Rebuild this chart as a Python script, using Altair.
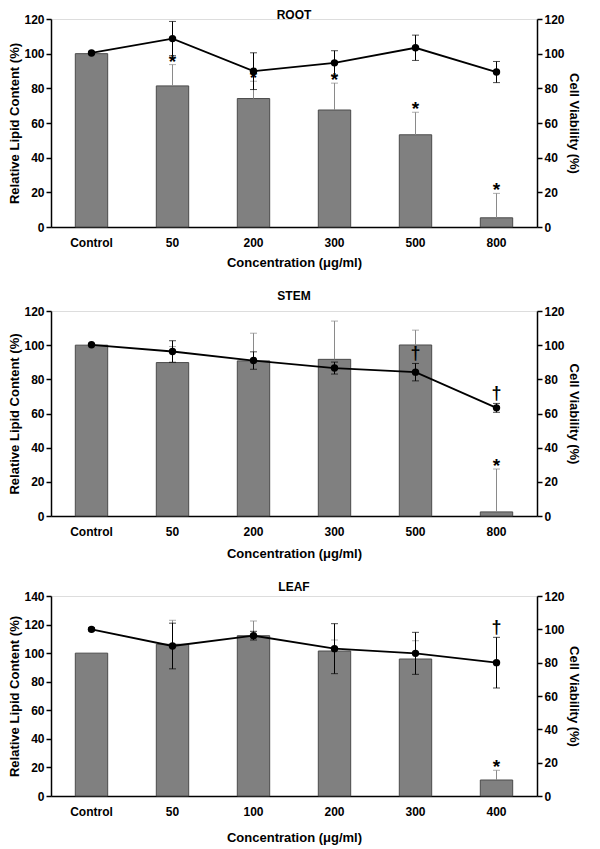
import altair as alt
import pandas as pd

FONT = "Liberation Sans"

# ---------------- data ----------------
root_cats = ["Control", "50", "200", "300", "500", "800"]
root_lipid = [100.0, 81.4, 74.1, 67.5, 53.2, 5.3]
root_lipid_sd = [0.0, 12.3, 10.0, 15.5, 13.0, 14.1]
root_viab = [100.4, 108.7, 89.9, 94.7, 103.4, 89.4]
root_viab_sd = [0.0, 9.9, 10.6, 7.0, 7.3, 6.1]
root_star = [False, True, True, True, True, True]
root_dagger = [False, False, False, False, False, False]

stem_cats = ["Control", "50", "200", "300", "500", "800"]
stem_lipid = [100.0, 89.8, 90.8, 91.7, 100.1, 2.4]
stem_lipid_sd = [0.0, 9.4, 16.2, 22.4, 8.7, 25.1]
stem_viab = [100.2, 96.3, 91.0, 86.6, 84.2, 63.3]
stem_viab_sd = [0.0, 6.3, 5.1, 3.5, 5.1, 2.6]
stem_star = [False, False, False, False, False, True]
stem_dagger = [False, False, False, False, True, True]

leaf_cats = ["Control", "50", "100", "200", "300", "400"]
leaf_lipid = [100.0, 106.2, 112.2, 101.5, 95.9, 11.2]
leaf_lipid_sd = [0.0, 16.8, 10.3, 7.7, 12.8, 6.8]
leaf_viab = [100.0, 90.0, 96.2, 88.4, 85.6, 80.0]
leaf_viab_sd = [1.0, 13.7, 2.6, 15.0, 12.6, 15.2]
leaf_star = [False, False, False, False, False, True]
leaf_dagger = [False, False, False, False, False, True]

AX = dict(labelFont=FONT, labelFontSize=12, labelFontWeight="bold",
          labelColor="black", titleFont=FONT, titleFontSize=13,
          titleFontWeight="bold", titleColor="black", grid=False,
          domainColor="black", domainWidth=1.5, tickColor="black",
          tickWidth=1.5)


def panel(title, cats, lipid, lipid_sd, viab, viab_sd, star, dagger,
          left_max, height, title_offset, x_title_pad):
    df = pd.DataFrame({
        "cat": cats,
        "lipid": lipid,
        "lipid_hi": [a + b for a, b in zip(lipid, lipid_sd)],
        "lipid_sd": lipid_sd,
        "viab": viab,
        "viab_lo": [a - b for a, b in zip(viab, viab_sd)],
        "viab_hi": [a + b for a, b in zip(viab, viab_sd)],
        "viab_sd": viab_sd,
        "star": star,
        "dagger": dagger,
    })

    x = alt.X("cat:N", sort=cats,
              scale=alt.Scale(paddingInner=0.6, paddingOuter=0.3),
              axis=alt.Axis(title="Concentration (\u03bcg/ml)", labelAngle=0,
                            ticks=False, labelPadding=10,
                            titlePadding=x_title_pad, **AX))

    left_axis = alt.Axis(title="Relative Lipid Content (%)",
                         values=list(range(0, left_max + 1, 20)),
                         orient="left", titlePadding=2, labelPadding=2,
                         tickSize=5, **AX)
    right_axis = alt.Axis(title="Cell Viability (%)",
                          values=list(range(0, 121, 20)),
                          orient="right", titlePadding=2, labelPadding=2,
                          tickSize=5, **AX)
    lscale = alt.Scale(domain=[0, left_max], nice=False, zero=True)
    rscale = alt.Scale(domain=[0, 120], nice=False, zero=True)

    def ly(field):
        return alt.Y(f"{field}:Q", scale=lscale, axis=left_axis,
                     title="Relative Lipid Content (%)")

    def ry(field):
        return alt.Y(f"{field}:Q", scale=rscale, axis=right_axis,
                     title="Cell Viability (%)")

    base = alt.Chart(df)
    bars = base.mark_bar(color="#808080", stroke="#4a4a4a",
                         strokeWidth=1).encode(x=x, y=ly("lipid"))
    berr = base.transform_filter("datum.lipid_sd > 0").mark_rule(
        color="#8a8a8a", strokeWidth=1).encode(
        x=x, y=ly("lipid"), y2="lipid_hi:Q")
    bcap = base.transform_filter("datum.lipid_sd > 0").mark_tick(
        color="#8a8a8a", size=7, thickness=1).encode(x=x, y=ly("lipid_hi"))
    stars = base.transform_filter("datum.star").mark_text(
        text="*", font=FONT, fontSize=19, fontWeight="bold", color="black",
        baseline="middle", dy=-3).encode(x=x, y=ly("lipid_hi"))
    left = alt.layer(bars, berr, bcap, stars)

    line = base.mark_line(color="black", strokeWidth=1.8).encode(
        x=x, y=ry("viab"))
    perr = base.transform_filter("datum.viab_sd > 0").mark_rule(
        color="black", strokeWidth=1).encode(
        x=x, y=ry("viab_lo"), y2="viab_hi:Q")
    pcap_hi = base.transform_filter("datum.viab_sd > 0").mark_tick(
        color="black", size=7, thickness=1).encode(x=x, y=ry("viab_hi"))
    pcap_lo = base.transform_filter("datum.viab_sd > 0").mark_tick(
        color="black", size=7, thickness=1).encode(x=x, y=ry("viab_lo"))
    pts = base.mark_circle(color="black", size=55, opacity=1).encode(
        x=x, y=ry("viab"))
    daggers = base.transform_filter("datum.dagger").mark_text(
        text="\u2020", font=FONT, fontSize=18, fontWeight="bold",
        color="black", baseline="middle", dy=-9).encode(x=x, y=ry("viab_hi"))
    right = alt.layer(line, perr, pcap_hi, pcap_lo, pts, daggers)

    return alt.layer(left, right).resolve_scale(y="independent").properties(
        width=486, height=height,
        title=alt.Title(title, font=FONT, fontSize=12, fontWeight="bold",
                        color="black", offset=title_offset))


p1 = panel("ROOT", root_cats, root_lipid, root_lipid_sd, root_viab,
           root_viab_sd, root_star, root_dagger, 120, 208, -9, 8)
p2 = panel("STEM", stem_cats, stem_lipid, stem_lipid_sd, stem_viab,
           stem_viab_sd, stem_star, stem_dagger, 120, 205, 2, 10)
p3 = panel("LEAF", leaf_cats, leaf_lipid, leaf_lipid_sd, leaf_viab,
           leaf_viab_sd, leaf_star, leaf_dagger, 140, 200, -4, 14)

chart = alt.vconcat(p1, p2, p3, spacing=19).configure_view(
    stroke=None).configure(
    background="white",
    padding={"left": 0, "top": 0, "right": 8, "bottom": 0})

chart.save("out.html", embed_options={"renderer": "svg", "actions": False})
